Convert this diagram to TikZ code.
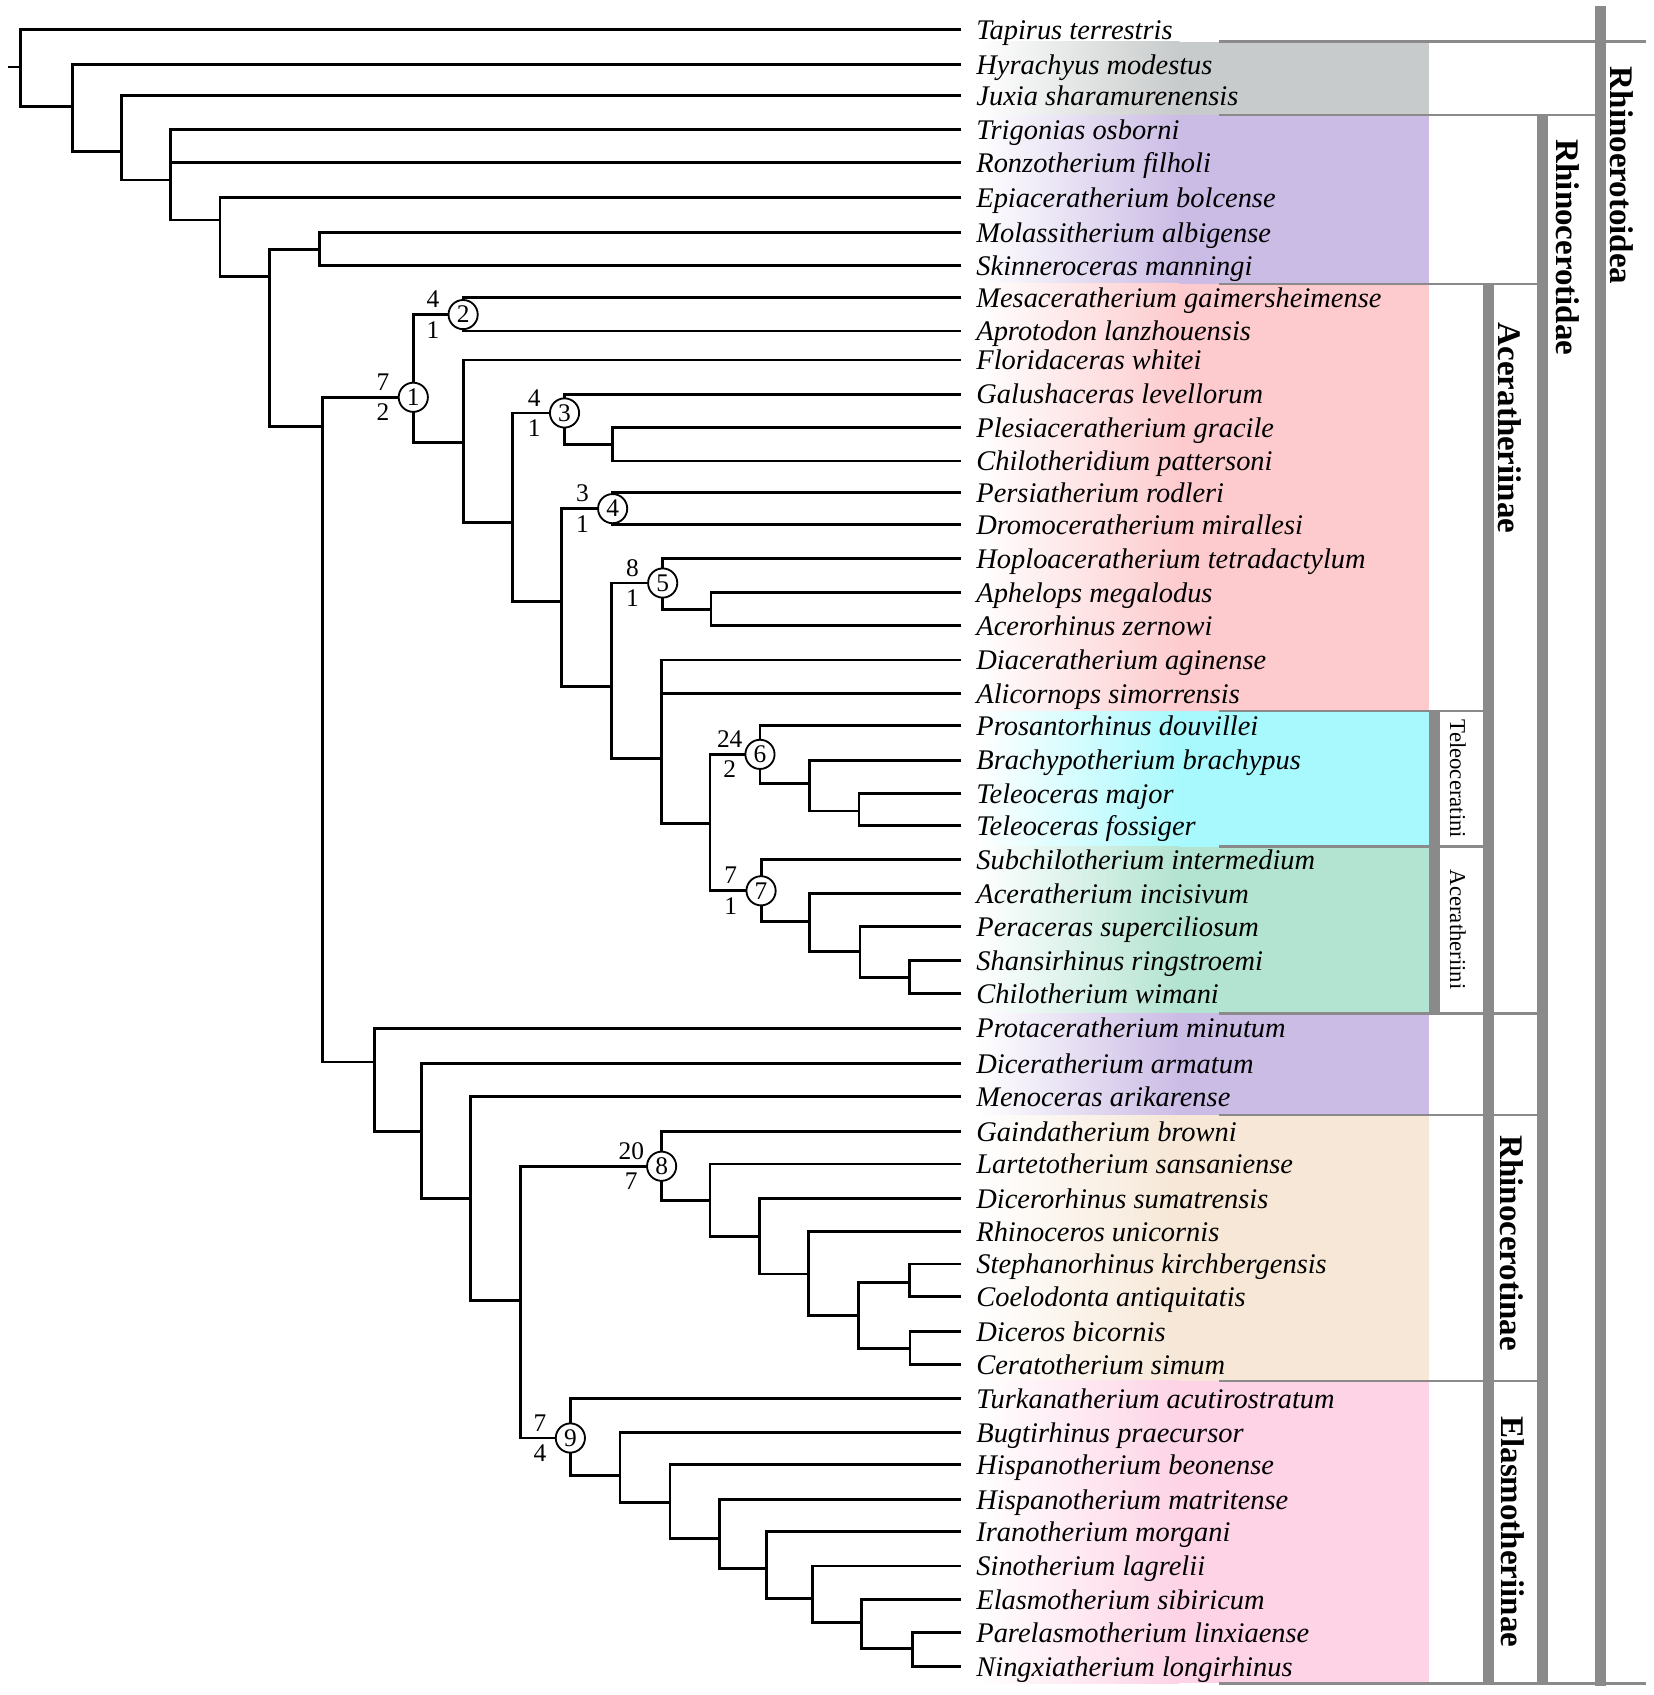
\documentclass[tikz,border=0pt]{standalone}
\usepackage{fontspec}
\setmainfont{Liberation Serif}
\definecolor{cgray}{RGB}{200,203,203}
\definecolor{cpurple}{RGB}{203,188,229}
\definecolor{cpink}{RGB}{253,203,206}
\definecolor{ccyan}{RGB}{168,249,253}
\definecolor{cgreen}{RGB}{179,227,209}
\definecolor{ctan}{RGB}{246,231,214}
\definecolor{cpinkb}{RGB}{253,211,229}
\definecolor{bargray}{RGB}{138,138,138}
\tikzset{
 branch/.style={line width=2.7pt, line join=miter},
 taxon/.style={anchor=base west, inner sep=0pt, font=\fontsize{26.3}{30}\selectfont\itshape},
 circ/.style={circle, draw, fill=white, line width=1.7pt, minimum size=27pt, inner sep=0pt, font=\fontsize{23.5}{26}\selectfont},
 supp/.style={inner sep=0pt, font=\fontsize{23.5}{26}\selectfont},
 sepline/.style={draw=bargray, line width=2.6pt},
 grp/.style={rotate=-90, inner sep=0pt, font=\fontsize{30.5}{34}\selectfont\bfseries},
 trb/.style={rotate=-90, inner sep=0pt, font=\fontsize{21}{24}\selectfont},
}
\begin{document}
\begin{tikzpicture}[x=1pt,y=-1pt]
\fill[white] (0,0) rectangle (1530,1567.93);
\useasboundingbox (0,0) rectangle (1530,1567.93);
% colour bands
\foreach \ya/\yb/\col in {38.5/106.4/cgray, 106.4/262.7/cpurple, 262.7/657.7/cpink, 657.7/783.4/ccyan, 783.4/937.3/cgreen, 937.3/1031.4/cpurple, 1031.4/1277.4/ctan, 1277.4/1557/cpinkb}{
  \shade[left color=white, right color=\col] (905,\ya) rectangle (1091,\yb);
  \fill[\col] (1090,\ya) rectangle (1322,\yb);
}
% bars
\fill[bargray] (1322,657.7) rectangle (1332,937.3);
\fill[bargray] (1371.5,262.7) rectangle (1382,1557);
\fill[bargray] (1422,106.4) rectangle (1432,1557);
\fill[bargray] (1475.4,6) rectangle (1485.6,1560);
% separator lines
\draw[sepline] (1127.7,38.5) -- (1523,38.5);
\draw[sepline] (1127.7,106.4) -- (1480,106.4);
\draw[sepline] (1127.7,262.7) -- (1427,262.7);
\draw[sepline] (1127.7,657.7) -- (1377,657.7);
\draw[sepline] (1127.7,783.4) -- (1377,783.4);
\draw[sepline] (1127.7,937.3) -- (1427,937.3);
\draw[sepline] (1127.7,1031.4) -- (1427,1031.4);
\draw[sepline] (1127.7,1277.4) -- (1427,1277.4);
\draw[sepline] (1127.7,1557) -- (1523,1557);
% group labels
\node[grp] (gRo) at (1500,162.5) {Rhinoerotoidea};
\node[grp] (gRd) at (1450,229) {Rhinocerotidae};
\node[grp] (gAc) at (1397,396) {Aceratheriinae};
\node[grp] (gRn) at (1398,1150) {Rhinocerotinae};
\node[grp] (gEl) at (1399,1417) {Elasmotheriinae};
\node[trb] (gTe) at (1348.5,720.5) {Teleoceratini};
\node[trb] (gAi) at (1348.5,860) {Aceratheriini};
% leaves
\foreach \i/\yy/\nm in {1/27.5/Tapirus terrestris, 2/59.5/Hyrachyus modestus, 3/88.5/Juxia sharamurenensis, 4/119.6/Trigonias osborni, 5/150.5/Ronzotherium filholi, 6/182.5/Epiaceratherium bolcense, 7/215.2/Molassitherium albigense, 8/245.8/Skinneroceras manningi, 9/275.3/Mesaceratherium gaimersheimense, 10/306.2/Aprotodon lanzhouensis, 11/333/Floridaceras whitei, 12/364.6/Galushaceras levellorum, 13/395.6/Plesiaceratherium gracile, 14/426.4/Chilotheridium pattersoni, 15/455.4/Persiatherium rodleri, 16/485/Dromoceratherium mirallesi, 17/517/Hoploaceratherium tetradactylum, 18/548.2/Aphelops megalodus, 19/578.4/Acerorhinus zernowi, 20/610.5/Diaceratherium aginense, 21/641.3/Alicornops simorrensis, 22/671.3/Prosantorhinus douvillei, 23/703.2/Brachypotherium brachypus, 24/733.8/Teleoceras major, 25/764/Teleoceras fossiger, 26/794.9/Subchilotherium intermedium, 27/826.3/Aceratherium incisivum, 28/857.2/Peraceras superciliosum, 29/888.6/Shansirhinus ringstroemi, 30/918.8/Chilotherium wimani, 31/951/Protaceratherium minutum, 32/983.6/Diceratherium armatum, 33/1014.4/Menoceras arikarense, 34/1046.7/Gaindatherium browni, 35/1076.7/Lartetotherium sansaniense, 36/1108.5/Dicerorhinus sumatrensis, 37/1139.3/Rhinoceros unicornis, 38/1169.2/Stephanorhinus kirchbergensis, 39/1199.4/Coelodonta antiquitatis, 40/1231.8/Diceros bicornis, 41/1262.6/Ceratotherium simum, 42/1293.5/Turkanatherium acutirostratum, 43/1325.2/Bugtirhinus praecursor, 44/1355/Hispanotherium beonense, 45/1386.9/Hispanotherium matritense, 46/1416.8/Iranotherium morgani, 47/1448.6/Sinotherium lagrelii, 48/1479.4/Elasmotherium sibiricum, 49/1509.9/Parelasmotherium linxiaense, 50/1541.7/Ningxiatherium longirhinus}{
  \coordinate (l\i) at (889,\yy);
  \node[taxon] (t\i) at (903,\yy+9) {\nm};
}
% internal nodes
\coordinate (rt) at (7.5,62);
\coordinate (n0) at (18.8,62);
\coordinate (nA) at (67,98.7);
\coordinate (nB) at (112.6,140.3);
\coordinate (nC) at (158,166.5);
\coordinate (nD) at (203.5,203.5);
\coordinate (nE) at (249.6,256);
\coordinate (nF) at (295.6,230.5);
\coordinate (nG) at (298.4,394.7);
\coordinate (n1) at (382.3,367.5);
\coordinate (n2) at (428.4,291);
\coordinate (nH) at (428.4,408.9);
\coordinate (nI) at (474.4,483);
\coordinate (n3) at (522.2,382);
\coordinate (nIc) at (566.4,411);
\coordinate (nJ) at (519.5,556.5);
\coordinate (n4) at (566.7,470.5);
\coordinate (nK) at (566,635.2);
\coordinate (n5) at (613,539.3);
\coordinate (nL) at (657.7,563.6);
\coordinate (nM) at (612,702);
\coordinate (nN) at (656.8,761.6);
\coordinate (n6) at (703,697.8);
\coordinate (n6b) at (748.6,724.6);
\coordinate (n6c) at (794.6,750.2);
\coordinate (n7) at (704,824);
\coordinate (n7b) at (748.6,852.5);
\coordinate (n7c) at (795.5,880.3);
\coordinate (n7d) at (841,904);
\coordinate (nO) at (346,982.4);
\coordinate (nP) at (390,1046.7);
\coordinate (nQ) at (435,1108.7);
\coordinate (nR) at (481.4,1203);
\coordinate (n8) at (612,1078.8);
\coordinate (nS) at (656.8,1110.4);
\coordinate (nT) at (702.4,1144.2);
\coordinate (nTb) at (747.7,1178.5);
\coordinate (nTc) at (794,1217);
\coordinate (nTd) at (841,1186.2);
\coordinate (nTe) at (841.8,1247.8);
\coordinate (n9) at (527.6,1330.2);
\coordinate (nU) at (573.5,1364.5);
\coordinate (nV) at (619.8,1390);
\coordinate (nW) at (665.4,1423);
\coordinate (nX) at (709.2,1450.7);
\coordinate (nY) at (751.4,1479);
\coordinate (nZ) at (797,1501);
\coordinate (nZZ) at (844.2,1524.7);
% branches
\draw[branch] (rt) -- (n0);
\foreach \p/\c in {n0/l1, n0/nA, nA/l2, nA/nB, nB/l3, nB/nC, nC/l4, nC/l5, nC/nD, nD/l6, nD/nE, nE/nF, nE/nG, nF/l7, nF/l8, nG/n1, nG/nO, n1/n2, n1/nH, n2/l9, n2/l10, nH/l11, nH/nI, nI/n3, nI/nJ, n3/l12, n3/nIc, nIc/l13, nIc/l14, nJ/n4, nJ/nK, n4/l15, n4/l16, nK/n5, nK/nM, n5/l17, n5/nL, nL/l18, nL/l19, nM/l20, nM/l21, nM/nN, nN/n6, nN/n7, n6/l22, n6/n6b, n6b/l23, n6b/n6c, n6c/l24, n6c/l25, n7/l26, n7/n7b, n7b/l27, n7b/n7c, n7c/l28, n7c/n7d, n7d/l29, n7d/l30, nO/l31, nO/nP, nP/l32, nP/nQ, nQ/l33, nQ/nR, nR/n8, nR/n9, n8/l34, n8/nS, nS/l35, nS/nT, nT/l36, nT/nTb, nTb/l37, nTb/nTc, nTc/nTd, nTc/nTe, nTd/l38, nTd/l39, nTe/l40, nTe/l41, n9/l42, n9/nU, nU/l43, nU/nV, nV/l44, nV/nW, nW/l45, nW/nX, nX/l46, nX/nY, nY/l47, nY/nZ, nZ/l48, nZ/nZZ, nZZ/l49, nZZ/l50}{
  \draw[branch] (\p) |- (\c);
}
% numbered nodes with support values
\foreach \k/\a/\b in {1/7/2, 2/4/1, 3/4/1, 4/3/1, 5/8/1, 6/24/2, 7/7/1, 8/20/7, 9/7/4}{
  \node[supp] (sa\k) at ([shift={(-28,-14)}]n\k) {\a};
  \node[supp] (sb\k) at ([shift={(-28,14)}]n\k) {\b};
  \node[circ] (c\k) at (n\k) {\k};
}
\end{tikzpicture}
\end{document}
